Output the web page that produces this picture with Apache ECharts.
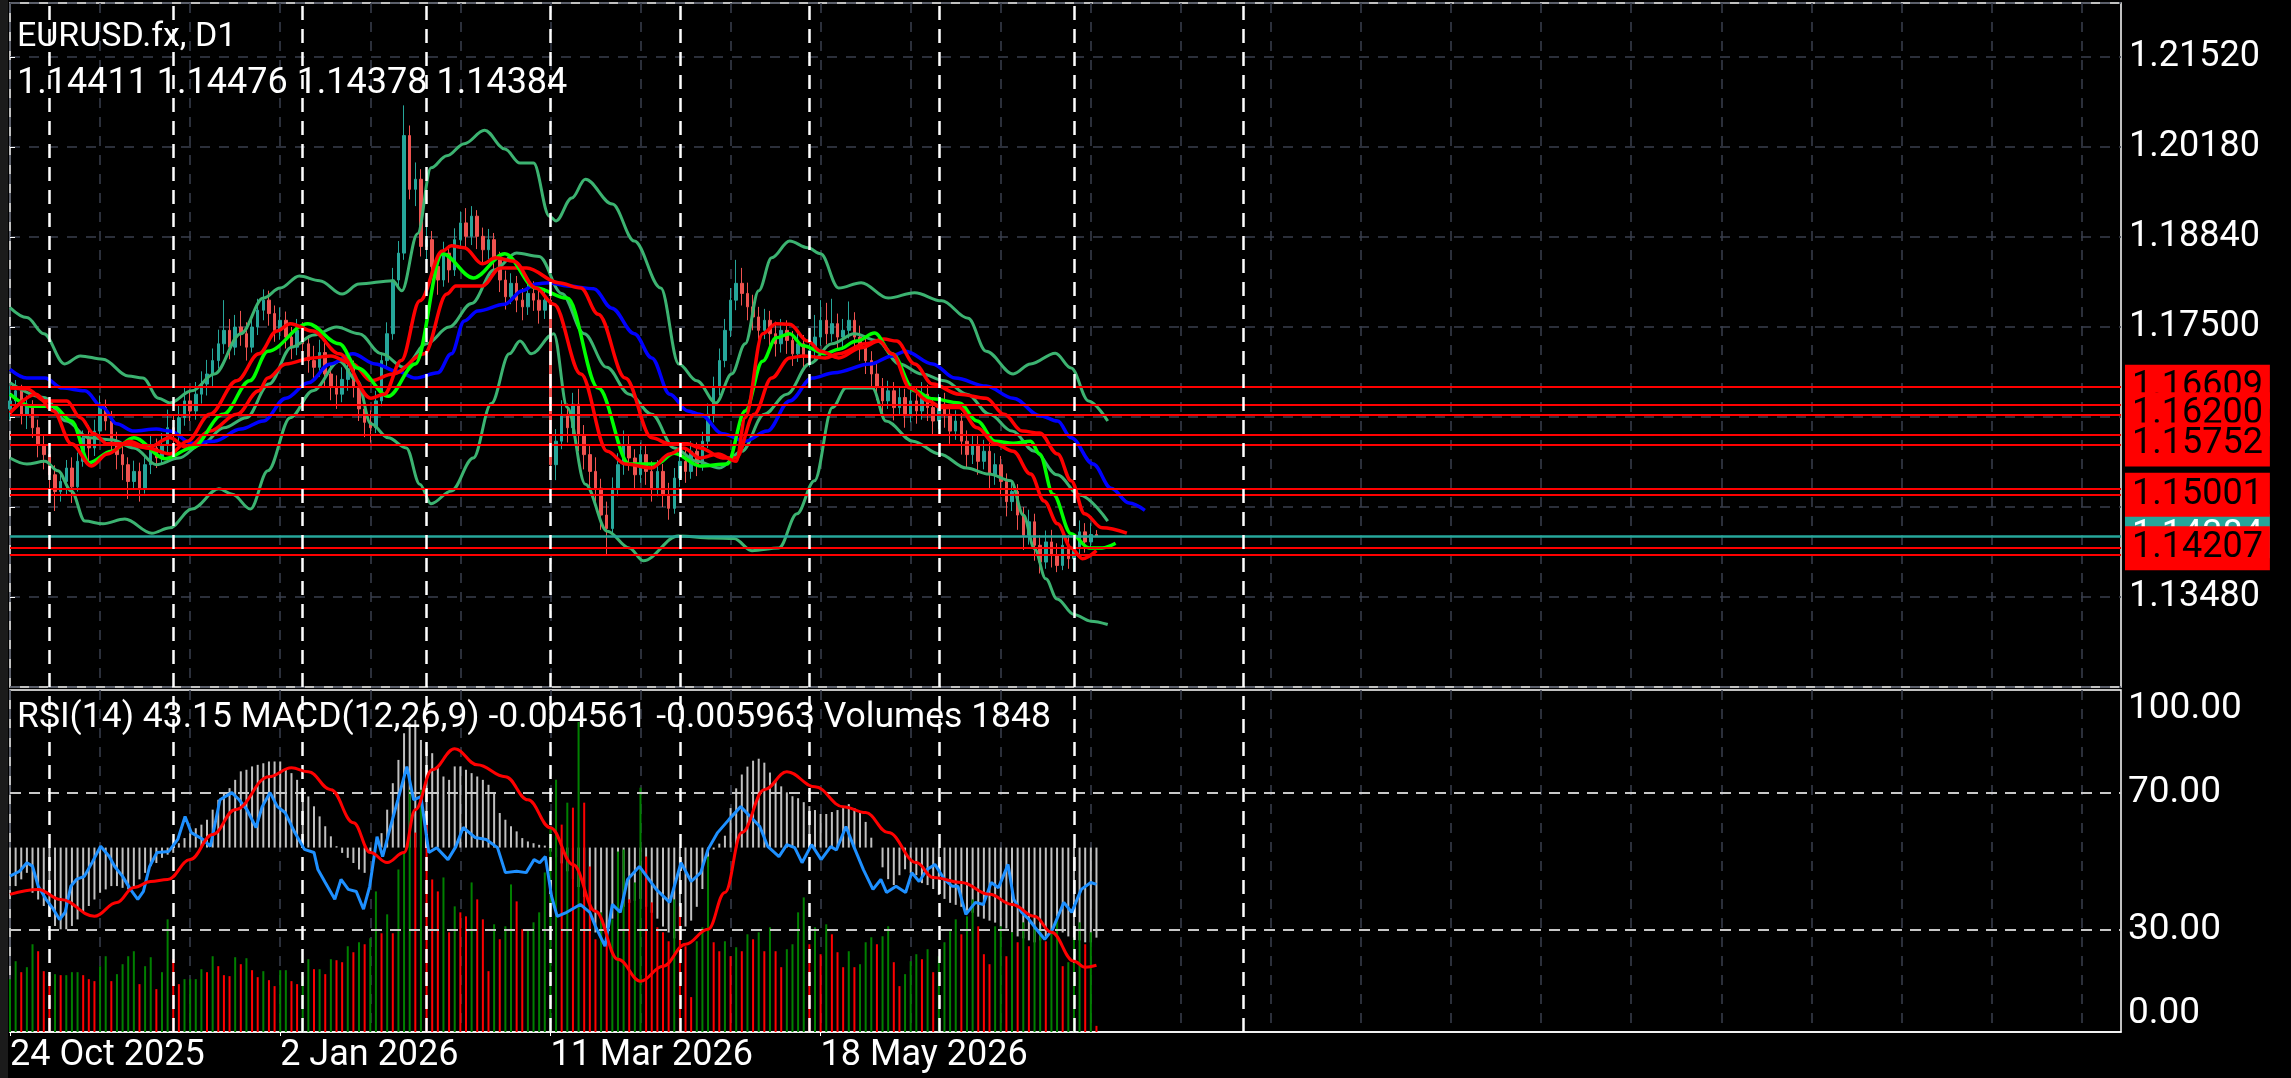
<!DOCTYPE html>
<html>
<head>
<meta charset="utf-8">
<script src="https://cdn.jsdelivr.net/npm/echarts@6/dist/echarts.min.js"></script>
<style>
  html, body { margin: 0; padding: 0; background: #000; }
  #chart { width: 2291px; height: 1078px; }
</style>
</head>
<body>
<div id="chart"></div>
<script>
// bar slots across the whole chart, including the empty shift on the right
const SLOTS = 376;

// daily candles, [open, close, low, high]
const candles = [
  [1.1628,1.1640,1.1612,1.1662],[1.1640,1.1655,1.1630,1.1671],[1.1655,1.1620,1.1605,1.1664],[1.1620,1.1632,1.1598,1.1648],[1.1632,1.1600,1.1585,1.1641],
  [1.1600,1.1575,1.1556,1.1612],[1.1575,1.1560,1.1538,1.1590],[1.1560,1.1530,1.1498,1.1571],[1.1530,1.1505,1.1476,1.1544],[1.1505,1.1520,1.1490,1.1533],
  [1.1520,1.1540,1.1500,1.1552],[1.1540,1.1512,1.1488,1.1556],[1.1512,1.1550,1.1505,1.1563],[1.1550,1.1585,1.1542,1.1596],[1.1585,1.1570,1.1550,1.1604],
  [1.1570,1.1595,1.1558,1.1612],[1.1595,1.1630,1.1588,1.1648],[1.1630,1.1610,1.1596,1.1642],[1.1610,1.1580,1.1566,1.1625],[1.1580,1.1560,1.1538,1.1594],
  [1.1560,1.1545,1.1522,1.1577],[1.1545,1.1520,1.1494,1.1556],[1.1520,1.1535,1.1508,1.1551],[1.1535,1.1510,1.1490,1.1548],[1.1510,1.1545,1.1502,1.1560],
  [1.1545,1.1570,1.1531,1.1588],[1.1570,1.1555,1.1540,1.1584],[1.1555,1.1575,1.1546,1.1592],[1.1575,1.1600,1.1562,1.1627],[1.1600,1.1590,1.1571,1.1618],
  [1.1590,1.1615,1.1580,1.1633],[1.1615,1.1640,1.1603,1.1660],[1.1640,1.1625,1.1610,1.1657],[1.1625,1.1650,1.1612,1.1668],[1.1650,1.1665,1.1636,1.1684],
  [1.1665,1.1680,1.1648,1.1701],[1.1680,1.1700,1.1662,1.1718],[1.1700,1.1725,1.1688,1.1746],[1.1725,1.1745,1.1710,1.1790],[1.1745,1.1720,1.1702,1.1762],
  [1.1720,1.1750,1.1708,1.1768],[1.1750,1.1740,1.1722,1.1774],[1.1740,1.1720,1.1700,1.1757],[1.1720,1.1750,1.1712,1.1766],[1.1750,1.1775,1.1738,1.1792],
  [1.1775,1.1790,1.1760,1.1806],[1.1790,1.1770,1.1752,1.1804],[1.1770,1.1745,1.1728,1.1782],[1.1745,1.1760,1.1731,1.1779],[1.1760,1.1735,1.1718,1.1773],
  [1.1735,1.1720,1.1702,1.1750],[1.1720,1.1745,1.1708,1.1762],[1.1745,1.1725,1.1706,1.1757],[1.1725,1.1700,1.1682,1.1738],[1.1700,1.1690,1.1668,1.1722],
  [1.1690,1.1712,1.1676,1.1731],[1.1712,1.1680,1.1662,1.1726],[1.1680,1.1660,1.1641,1.1695],[1.1660,1.1650,1.1628,1.1678],[1.1650,1.1672,1.1638,1.1690],
  [1.1672,1.1688,1.1655,1.1705],[1.1688,1.1660,1.1645,1.1700],[1.1660,1.1628,1.1610,1.1671],[1.1628,1.1608,1.1586,1.1640],[1.1608,1.1600,1.1578,1.1626],
  [1.1600,1.1640,1.1592,1.1655],[1.1640,1.1700,1.1632,1.1712],[1.1700,1.1740,1.1690,1.1757],[1.1740,1.1820,1.1731,1.1838],[1.1820,1.1860,1.1808,1.1878],
  [1.1860,1.2035,1.1850,1.2080],[1.2035,1.1955,1.1940,1.2050],[1.1955,1.1970,1.1930,1.1995],[1.1970,1.1870,1.1855,1.1985],[1.1870,1.1880,1.1845,1.1902],
  [1.1880,1.1840,1.1822,1.1893],[1.1840,1.1820,1.1798,1.1858],[1.1820,1.1860,1.1810,1.1877],[1.1860,1.1835,1.1816,1.1872],[1.1835,1.1880,1.1826,1.1897],
  [1.1880,1.1905,1.1866,1.1922],[1.1905,1.1885,1.1868,1.1927],[1.1885,1.1915,1.1872,1.1930],[1.1915,1.1885,1.1866,1.1924],[1.1885,1.1865,1.1846,1.1898],
  [1.1865,1.1880,1.1851,1.1896],[1.1880,1.1850,1.1830,1.1890],[1.1850,1.1820,1.1802,1.1862],[1.1820,1.1795,1.1776,1.1834],[1.1795,1.1815,1.1784,1.1830],
  [1.1815,1.1790,1.1772,1.1826],[1.1790,1.1780,1.1760,1.1808],[1.1780,1.1800,1.1768,1.1816],[1.1800,1.1790,1.1774,1.1818],[1.1790,1.1775,1.1755,1.1804],
  [1.1775,1.1790,1.1762,1.1808],[1.1790,1.1545,1.1528,1.1805],[1.1545,1.1580,1.1522,1.1598],[1.1580,1.1620,1.1568,1.1641],[1.1620,1.1600,1.1578,1.1636],
  [1.1600,1.1635,1.1588,1.1652],[1.1635,1.1590,1.1565,1.1658],[1.1590,1.1560,1.1538,1.1604],[1.1560,1.1535,1.1512,1.1575],[1.1535,1.1510,1.1488,1.1556],
  [1.1510,1.1470,1.1448,1.1524],[1.1470,1.1450,1.1409,1.1490],[1.1450,1.1510,1.1440,1.1526],[1.1510,1.1545,1.1498,1.1562],[1.1545,1.1575,1.1530,1.1596],
  [1.1575,1.1555,1.1536,1.1590],[1.1555,1.1530,1.1510,1.1568],[1.1530,1.1560,1.1518,1.1578],[1.1560,1.1535,1.1515,1.1574],[1.1535,1.1510,1.1490,1.1550],
  [1.1510,1.1535,1.1498,1.1552],[1.1535,1.1500,1.1482,1.1546],[1.1500,1.1480,1.1463,1.1518],[1.1480,1.1525,1.1472,1.1540],[1.1525,1.1550,1.1512,1.1566],
  [1.1550,1.1535,1.1518,1.1568],[1.1535,1.1565,1.1524,1.1580],[1.1565,1.1545,1.1528,1.1578],[1.1545,1.1580,1.1536,1.1594],[1.1580,1.1620,1.1570,1.1636],
  [1.1620,1.1660,1.1608,1.1676],[1.1660,1.1700,1.1648,1.1718],[1.1700,1.1745,1.1690,1.1762],[1.1745,1.1790,1.1735,1.1808],[1.1790,1.1815,1.1775,1.1850],
  [1.1815,1.1800,1.1782,1.1838],[1.1800,1.1780,1.1760,1.1816],[1.1780,1.1765,1.1745,1.1798],[1.1765,1.1745,1.1726,1.1780],[1.1745,1.1760,1.1732,1.1777],
  [1.1760,1.1740,1.1720,1.1774],[1.1740,1.1725,1.1706,1.1758],[1.1725,1.1745,1.1712,1.1762],[1.1745,1.1730,1.1710,1.1760],[1.1730,1.1710,1.1692,1.1744],
  [1.1710,1.1725,1.1698,1.1741],[1.1725,1.1705,1.1688,1.1738],[1.1705,1.1715,1.1690,1.1732],[1.1715,1.1735,1.1702,1.1768],[1.1735,1.1760,1.1722,1.1790],
  [1.1760,1.1740,1.1724,1.1786],[1.1740,1.1755,1.1728,1.1792],[1.1755,1.1735,1.1718,1.1770],[1.1735,1.1745,1.1716,1.1762],[1.1745,1.1760,1.1733,1.1788],
  [1.1760,1.1735,1.1718,1.1772],[1.1735,1.1720,1.1700,1.1752],[1.1720,1.1700,1.1680,1.1734],[1.1700,1.1680,1.1660,1.1714],[1.1680,1.1660,1.1641,1.1695],
  [1.1660,1.1640,1.1620,1.1674],[1.1640,1.1655,1.1628,1.1670],[1.1655,1.1630,1.1611,1.1668],[1.1630,1.1645,1.1618,1.1661],[1.1645,1.1620,1.1600,1.1658],
  [1.1620,1.1640,1.1608,1.1656],[1.1640,1.1625,1.1606,1.1660],[1.1625,1.1650,1.1612,1.1668],[1.1650,1.1630,1.1610,1.1664],[1.1630,1.1610,1.1590,1.1645],
  [1.1610,1.1635,1.1598,1.1650],[1.1635,1.1620,1.1600,1.1652],[1.1620,1.1595,1.1576,1.1632],[1.1595,1.1610,1.1582,1.1626],[1.1610,1.1580,1.1560,1.1622],
  [1.1580,1.1560,1.1540,1.1596],[1.1560,1.1575,1.1546,1.1590],[1.1575,1.1550,1.1530,1.1588],[1.1550,1.1565,1.1538,1.1582],[1.1565,1.1530,1.1510,1.1578],
  [1.1530,1.1545,1.1515,1.1562],[1.1545,1.1520,1.1498,1.1558],[1.1520,1.1490,1.1468,1.1532],[1.1490,1.1505,1.1476,1.1522],[1.1505,1.1470,1.1448,1.1516],
  [1.1470,1.1440,1.1418,1.1482],[1.1440,1.1460,1.1426,1.1478],[1.1460,1.1425,1.1402,1.1472],[1.1425,1.1400,1.1383,1.1440],[1.1400,1.1430,1.1390,1.1447],
  [1.1430,1.1410,1.1392,1.1448],[1.1410,1.1395,1.1385,1.1428],[1.1395,1.1425,1.1388,1.1442],[1.1425,1.1405,1.1390,1.1440],[1.1405,1.1420,1.1386,1.1436],
  [1.1420,1.1445,1.1410,1.1462],[1.1445,1.1430,1.1414,1.1458],[1.1430,1.14411,1.1420,1.1458],[1.14411,1.14384,1.14378,1.14476]
];

// indicator lines, [bar, price]
const bbUpper = [[0,1.1779],[3,1.1764],[6,1.1740],[9.7,1.1695],[12.5,1.1707],[16.5,1.1702],[21,1.1677],[23.6,1.1674],[26.4,1.1644],[28.4,1.1637],[32.3,1.1655],[36.3,1.1680],[41,1.1740],[45,1.1793],[48,1.1808],[51.4,1.1826],[55,1.1819],[59,1.1799],[62,1.1814],[68,1.1819],[69.6,1.1804],[72.4,1.1889],[74.8,1.1987],[77.6,1.2005],[80.7,1.2023],[84.3,1.2043],[87.9,1.2015],[90.6,1.1994],[93,1.1994],[95.8,1.1915],[97,1.1908],[99.8,1.1942],[102.2,1.1970],[107,1.1933],[110.9,1.1878],[115.6,1.1808],[118.8,1.1695],[122,1.1670],[125.4,1.1637],[128.2,1.1680],[130.6,1.1725],[133,1.1804],[135.3,1.1853],[138.5,1.1878],[141.7,1.1868],[144,1.1859],[147.2,1.1808],[151.2,1.1816],[156,1.1793],[160.7,1.1801],[165.5,1.1789],[170.2,1.1763],[173.4,1.1714],[178.2,1.1680],[181.3,1.1695],[185.7,1.1711],[188.5,1.1689],[191.6,1.1640],[195,1.1610]];
const bbMiddle = [[0,1.1667],[6,1.1645],[10,1.1610],[14,1.1585],[18,1.1582],[22,1.1570],[26,1.1545],[30,1.1555],[34,1.1575],[38,1.1600],[42,1.1615],[46,1.1665],[50,1.1720],[54,1.1738],[58,1.1750],[62,1.1740],[66,1.1710],[70,1.1690],[74,1.1725],[78,1.1750],[82,1.1785],[86,1.1835],[90,1.1860],[94,1.1855],[98,1.1800],[102,1.1740],[106,1.1690],[110,1.1650],[114,1.1620],[118,1.1570],[122,1.1550],[126,1.1540],[130,1.1565],[134,1.1620],[138,1.1650],[142,1.1695],[146,1.1725],[150,1.1740],[154,1.1730],[158,1.1695],[162,1.1680],[166,1.1670],[170,1.1650],[174,1.1620],[178,1.1595],[182,1.1565],[186,1.1530],[190,1.1500],[195,1.1461]];
const bbLower = [[0,1.1555],[3,1.1546],[6.2,1.1550],[8.5,1.1536],[10.9,1.1506],[13.3,1.1461],[16.5,1.1457],[20.4,1.1464],[25.2,1.1443],[28.4,1.1451],[32.3,1.1479],[37.1,1.1509],[39.5,1.1501],[42.7,1.1479],[45.8,1.1536],[49.8,1.1615],[53.8,1.1655],[58.5,1.1699],[61.7,1.1670],[64.1,1.1606],[67.2,1.1585],[70.4,1.1570],[72.8,1.1516],[74.8,1.1487],[78.4,1.1506],[82.3,1.1555],[85.5,1.1636],[88.7,1.1710],[90.6,1.1729],[92.6,1.1710],[96.6,1.1740],[99,1.1630],[102.2,1.1516],[106.1,1.1446],[110,1.1421],[112.5,1.1402],[118.7,1.1439],[124.7,1.1436],[128.6,1.1435],[131.8,1.1417],[136.6,1.1421],[139.8,1.1472],[142.9,1.1521],[146.1,1.1630],[148.5,1.1659],[153.2,1.1659],[155.6,1.1610],[160.4,1.1580],[165.1,1.1561],[169.9,1.1540],[173.9,1.1531],[177.8,1.1521],[180,1.1470],[182,1.1420],[184,1.1375],[186,1.1345],[189,1.1322],[192,1.1312],[195,1.1307]];
const jaw = [[0,1.1687],[3,1.1674],[6.2,1.1674],[9.3,1.1659],[13.3,1.1655],[16.5,1.1630],[18.9,1.1606],[22,1.1595],[26,1.1598],[28.4,1.1595],[32.3,1.1577],[36.3,1.1580],[41,1.1598],[45,1.1610],[49,1.1644],[53,1.1667],[56.9,1.1695],[60.9,1.1710],[64.9,1.1695],[68.8,1.1684],[72,1.1674],[76,1.1682],[78.4,1.1710],[80.7,1.1759],[83.1,1.1774],[87.9,1.1784],[91,1.1804],[93.4,1.1814],[95.8,1.1816],[99,1.1811],[103.7,1.1807],[106.9,1.1778],[110.9,1.1740],[114,1.1704],[117.2,1.1650],[120.4,1.1625],[122.6,1.1620],[126.6,1.1591],[130.6,1.1580],[134.5,1.1595],[138.5,1.1640],[142.5,1.1674],[146.4,1.1682],[152.8,1.1695],[156.7,1.1707],[159.1,1.1714],[163.9,1.1695],[167.9,1.1674],[173.4,1.1662],[178.2,1.1644],[183,1.1618],[186.1,1.1610],[188.5,1.1585],[192.4,1.1546],[195.6,1.1510],[198.8,1.1488],[201.6,1.1477]];
const teeth = [[0,1.1659],[3,1.1658],[6.2,1.1640],[10.1,1.1640],[12.5,1.1615],[14.9,1.1591],[17.3,1.1576],[20.4,1.1576],[24.4,1.1570],[28.4,1.1585],[31.5,1.1570],[35.5,1.1595],[40.3,1.1620],[44.2,1.1655],[45.8,1.1674],[49,1.1695],[53.8,1.1704],[57,1.1707],[60.9,1.1695],[64.1,1.1670],[68,1.1680],[73.6,1.1710],[77.6,1.1799],[79.2,1.1811],[83.9,1.1811],[87.1,1.1838],[91.8,1.1838],[97.4,1.1816],[101.4,1.1808],[104.5,1.1769],[109.3,1.1674],[114,1.1585],[117.2,1.1576],[120.4,1.1576],[122.6,1.1570],[126.6,1.1555],[129,1.1555],[132.2,1.1620],[135.3,1.1674],[138.5,1.1704],[140.9,1.1707],[144.8,1.1704],[147.2,1.1710],[152,1.1725],[155.2,1.1732],[157.5,1.1729],[160.7,1.1695],[163.9,1.1665],[168.6,1.1650],[173.4,1.1644],[176.6,1.1620],[179.8,1.1595],[182.9,1.1592],[186.1,1.1561],[188.5,1.1521],[190.9,1.1472],[194,1.1451],[198.4,1.1443]];
const lips = [[0,1.1650],[3.8,1.1632],[7.7,1.1632],[10.9,1.1610],[14.1,1.1548],[18,1.1565],[22,1.1585],[27.6,1.1554],[32.3,1.1570],[37.9,1.1620],[42.6,1.1670],[45.8,1.1714],[52.9,1.1755],[58.5,1.1725],[61.7,1.1689],[67.2,1.1647],[72,1.1695],[76.8,1.1859],[82.3,1.1823],[87.9,1.1859],[93.4,1.1808],[99,1.1793],[104.5,1.1659],[110,1.1546],[114.8,1.1546],[118,1.1562],[122.6,1.1543],[127.4,1.1546],[130.6,1.1625],[133.7,1.1699],[136.1,1.1734],[138.5,1.1740],[140.9,1.1722],[144.8,1.1710],[147.2,1.1717],[150.4,1.1729],[153.6,1.1741],[156.7,1.1710],[160.7,1.1655],[163.9,1.1643],[168.6,1.1637],[171.8,1.1610],[175,1.1580],[178.2,1.1577],[181.3,1.1580],[182.9,1.1561],[185.3,1.1501],[188.5,1.1442],[191.7,1.1421],[194,1.1421],[196.4,1.1428]];
const fastMa = [[0,1.1622],[4.6,1.1650],[7.7,1.1625],[10.9,1.1576],[14.5,1.1543],[17.3,1.1561],[21.2,1.1580],[24.4,1.1570],[28.4,1.1561],[31.5,1.1580],[35.5,1.1620],[40.3,1.1670],[44.2,1.1710],[47.4,1.1744],[49.8,1.1755],[53.8,1.1744],[58.5,1.1710],[64.1,1.1644],[66.5,1.1650],[69.5,1.1700],[72.8,1.1789],[76.8,1.1863],[78.4,1.1871],[80.7,1.1868],[83.9,1.1844],[86.3,1.1853],[89.5,1.1848],[93.4,1.1808],[96.6,1.1784],[101.4,1.1680],[106.1,1.1565],[109.3,1.1546],[114,1.1540],[117.2,1.1561],[119.6,1.1570],[122.6,1.1555],[125.8,1.1561],[129,1.1550],[130.6,1.1615],[133.7,1.1740],[136.1,1.1755],[138.5,1.1754],[141.7,1.1729],[144,1.1714],[147.2,1.1704],[151.2,1.1719],[154.4,1.1729],[156.7,1.1710],[159.9,1.1659],[163.1,1.1640],[165.5,1.1630],[168.6,1.1630],[171.8,1.1600],[175,1.1576],[178.2,1.1565],[181.3,1.1531],[183.7,1.1491],[186.1,1.1457],[188.5,1.1421],[190.5,1.1405],[193,1.1417]];

// horizontal levels
const levelPrices = [1.16609, 1.16340, 1.16200, 1.15890, 1.15752, 1.15090, 1.15001, 1.14207, 1.14105];
const levelTagged = [1.16609, 1.16200, 1.15752, 1.15001, 1.14207];
const bidPrice = 1.14384;

// vertical separators (bar positions) and date ticks
const separators = [7, 29, 52, 74, 96, 119, 142, 165, 189, 219];
const dateTickBars = [0, 48, 96, 144];
const dateTickText = ['24 Oct 2025', '2 Jan 2026', '11 Mar 2026', '18 May 2026'];

// lower window
const rsiLevels = [30, 70];
const rsiTickValues = [0, 30, 70, 100];
const rsi = [[0,45.6],[1.7,47],[3,49.5],[4,48.5],[5,42.7],[6.4,38.8],[7.7,35.9],[8.8,32.9],[9.8,35],[10.8,42.6],[11.8,44.6],[13.2,45.5],[14.6,49.6],[16.1,54.3],[17.6,51.4],[18.6,48.4],[20,45.5],[21.4,41.7],[22.7,38.8],[23.7,41.1],[24.8,48.4],[26.1,52.5],[28.2,52.8],[29.8,56.3],[31.1,63],[32.2,58.3],[34.3,56.3],[35.6,54.3],[37.3,67.9],[39.4,70],[40.7,67.9],[42.1,65],[43.7,59.8],[44.8,65.9],[46.2,70],[47.5,65.9],[48.9,64.1],[50.6,58.3],[52.3,53.4],[54,52.5],[54.7,47.5],[56,43.7],[57.7,38.8],[58.8,44.6],[60.1,41.7],[61.5,41.1],[62.8,35.9],[63.9,42.6],[65.2,57.1],[66.2,51.3],[67.6,60.1],[68.9,67.9],[70.5,77.6],[71.7,67.9],[73,68.8],[74.4,52.5],[75.8,53.9],[77.8,50.4],[79.2,54.2],[80.5,59.8],[82.6,56.9],[84.6,56.3],[86.6,53.9],[88,46.6],[90,47],[91.7,46.6],[93.1,50.4],[94.1,49.5],[95.1,51.3],[96.2,39.7],[97.2,33.8],[98.9,35],[101.3,37.3],[103,35],[104,30.9],[105.7,25.1],[107,37.3],[108.4,35],[109.7,44.6],[111.8,48.4],[113.1,45.5],[114.8,41.7],[117.2,37.9],[119.2,49.5],[121,44],[122.7,46.6],[124,53.4],[125.7,58.3],[127.7,62.1],[129.8,65.9],[131.5,63],[133.2,60.1],[134.6,54.3],[136.6,51.3],[138,54.8],[139.4,53.9],[140.7,49.5],[142.4,54.8],[144.1,50.4],[145.8,54.2],[146.8,53.2],[148.5,60.1],[149.9,54.2],[151.6,47.5],[153.3,41.7],[154.7,44.6],[155.7,40.8],[157.4,42.6],[159.1,40.8],[160.2,46.6],[161.5,44],[162.9,47.5],[164.3,49],[166,44.6],[167.4,42.6],[168.4,42.6],[169.8,34.4],[171.5,37.9],[172.9,37.3],[174.3,43.7],[175.6,42.2],[177.3,49],[178.3,38.8],[179.7,35],[181,32.9],[182.8,29.1],[183.8,27.1],[185.2,30],[187.2,37.9],[188.6,35],[190.3,41.7],[192,43.7],[193,43.15]];
const macdHist = [
  -0.00195,-0.00195,-0.00161,-0.00128,-0.00229,-0.00263,-0.00296,-0.00347,-0.00397,-0.00414,
  -0.00414,-0.00397,-0.00364,-0.0033,-0.00296,-0.00263,-0.00229,-0.00212,-0.00195,-0.00195,
  -0.00204,-0.00212,-0.00195,-0.00161,-0.00128,-0.00094,-0.00078,-0.00052,-0.00036,-0.00027,
  0.00022,0.00048,0.00073,0.00098,0.00116,0.00141,0.00192,0.00242,0.00276,0.00301,
  0.00343,0.00386,0.00394,0.00411,0.00419,0.00427,0.00436,0.00436,0.00436,0.00402,
  0.00377,0.00343,0.00301,0.00259,0.00209,0.00158,0.00108,0.00057,0.00007,-0.00027,
  -0.00052,-0.00078,-0.00111,-0.00128,-0.00027,0.00022,0.00073,0.00192,0.00326,0.00444,
  0.00579,0.00629,0.00646,0.00545,0.00495,0.00478,0.00411,0.0036,0.00343,0.00411,
  0.00411,0.00394,0.00377,0.0036,0.00343,0.00318,0.00276,0.00175,0.00141,0.00108,
  0.00082,0.00048,0.00031,0.00022,0.00014,0.0001,
  -0.0002,-0.0005,-0.0008,-0.0012,-0.0016,-0.0020,-0.0025,-0.0030,-0.0043,-0.0046,
  -0.0041,-0.0036,-0.0033,-0.0030,-0.0028,-0.0027,-0.0026,-0.0030,-0.0033,-0.0036,
  -0.0040,-0.0043,-0.0046,-0.0043,-0.0040,-0.0037,-0.0030,-0.0021,-0.0010,-0.0001,
  0.0002,0.0006,0.0020,0.0030,0.0037,0.0041,0.0044,0.0045,0.0043,0.0038,
  0.0034,0.0031,0.0028,0.0026,0.0025,0.0023,0.0021,0.0019,0.0017,0.0017,
  0.0018,0.0019,0.0020,0.0022,0.0020,0.0018,0.0013,0.0005,0.0000,-0.0010,
  -0.0016,-0.0019,-0.0014,-0.0011,-0.0013,-0.0014,-0.0018,-0.0019,-0.0021,-0.0024,
  -0.0026,-0.0028,-0.0029,-0.0030,-0.0032,-0.0033,-0.0035,-0.0036,-0.0037,-0.0038,
  -0.0040,-0.0041,-0.0043,-0.0045,-0.0046,-0.0047,-0.0048,-0.0047,-0.0045,-0.0043,
  -0.0042,-0.0043,-0.0045,-0.0046,-0.0047,-0.0048,-0.0048,-0.004561
];
const macdSignal = [[0,-0.00237],[5,-0.00212],[9,-0.00263],[15,-0.00348],[19,-0.00278],[22,-0.00202],[25,-0.00172],[28,-0.00162],[32,-0.00061],[36,0.00066],[40,0.00192],[46,0.00359],[50,0.00404],[53,0.00384],[57,0.00293],[61,0.00126],[64,-0.00025],[67,-0.00076],[70,-0.00025],[72,0.00192],[75,0.00394],[79,0.0050],[83,0.00419],[88,0.00359],[92,0.00242],[96,0.00101],[100,-0.00086],[104,-0.00323],[108,-0.00566],[112,-0.00677],[116,-0.00601],[120,-0.0049],[124,-0.00414],[127,-0.00227],[130,0.00076],[134,0.00293],[138,0.00384],[143,0.00308],[148,0.00207],[152,0.00177],[156,0.00076],[161,-0.00076],[164,-0.00152],[169,-0.00177],[174,-0.00237],[178,-0.00288],[182,-0.00348],[185,-0.00429],[189,-0.00576],[191,-0.00606],[193,-0.005963]];
const volumes = [
  15900,21300,18000,19500,26400,24300,18300,16800,17400,17100,
  17100,18000,18000,17100,15900,15300,19800,22800,15300,17400,
  20400,22800,24300,14400,19800,22500,12900,18000,33900,21900,
  14400,15900,15900,15900,18900,18000,22800,19800,17100,16800,
  22500,20400,22200,18600,16500,18300,15600,13800,18600,18600,
  15300,14400,16800,21900,18900,18900,17400,21900,21600,21000,
  25800,24000,27000,26400,28200,42300,29700,35400,29700,48900,
  54300,72900,60000,72900,63000,45900,42300,46500,30000,37800,
  36000,34800,45000,39900,33900,18300,32400,27900,31800,44400,
  39300,30900,30900,33000,36000,48000,
  61800,75900,62400,69000,67500,93300,69000,49800,27900,36000,
  27900,33900,54300,54900,39900,45000,73500,52800,39000,31500,
  30000,27300,39900,37800,25800,10500,27300,31500,52800,27000,
  24300,27300,22800,25500,24300,29400,27900,30000,24300,31500,
  24300,19500,24900,26400,36000,40500,26400,31500,23400,32400,
  29400,24000,19500,24300,19500,20400,27000,28500,26400,28800,
  31800,21000,13800,17400,21300,23400,21900,24900,18000,22800,
  27000,30300,33900,29400,34800,39900,31800,23400,20400,31800,
  31800,22800,30000,27000,33000,25800,30900,30900,27300,30000,
  34800,19800,21000,28500,33000,26400,30000,1848
];

const FONT = 'Roboto';
const GRID_GREY = '#3a3f4e';
const slots = Array.from({ length: SLOTS }, (_, i) => i);

const chart = echarts.init(document.getElementById('chart'), null, { renderer: 'canvas' });

function maLine(name, data, color, width) {
  return {
    name, type: 'line', xAxisIndex: 1, yAxisIndex: 0, data,
    symbol: 'none', smooth: 0.35, smoothMonotone: 'x',
    lineStyle: { color, width }, z: 4, silent: true
  };
}

const sepLines = (xAxisIndex, yAxisIndex) => ({
  type: 'line', xAxisIndex, yAxisIndex, data: [], z: 6, silent: true,
  markLine: {
    symbol: ['none', 'none'], silent: true, animation: false, precision: 5,
    label: { show: false },
    lineStyle: { color: '#ffffff', width: 2.5, type: [14, 9] },
    data: separators.map(b => ({ xAxis: b }))
  }
});

const tagLabel = (text, color, bg) => ({
  show: true, position: 'end', distance: 4, formatter: () => text,
  color, backgroundColor: bg, fontSize: 36, fontFamily: FONT, padding: [5, 7, 3, 7]
});

chart.setOption({
  backgroundColor: '#000000',
  animation: false,
  textStyle: { fontFamily: FONT },
  title: [
    { text: 'EURUSD.fx, D1', left: 17, top: 20, padding: 0,
      textStyle: { color: '#fff', fontSize: 34, fontWeight: 'normal', fontFamily: FONT } },
    { text: '1.14411 1.14476 1.14378 1.14384', left: 17, top: 66, padding: 0,
      textStyle: { color: '#fff', fontSize: 36, fontWeight: 'normal', fontFamily: FONT } },
    { text: 'RSI(14) 43.15 MACD(12,26,9) -0.004561 -0.005963 Volumes 1848', left: 17, top: 700, padding: 0,
      textStyle: { color: '#fff', fontSize: 35.5, fontWeight: 'normal', fontFamily: FONT } }
  ],
  graphic: [
    { type: 'rect', shape: { x: 0, y: 0, width: 8, height: 1078 }, style: { fill: '#1b1b1b' }, z: -1 }
  ],
  grid: [
    { left: 10, right: 170, top: 3, height: 684, show: true, borderColor: '#ffffff', borderWidth: 1.5, backgroundColor: 'transparent' },
    { left: 10, right: 170, top: 690, height: 342, show: true, borderColor: '#ffffff', borderWidth: 1.5, backgroundColor: 'transparent' }
  ],
  xAxis: [
    { type: 'category', gridIndex: 0, data: slots, boundaryGap: false,
      axisLine: { show: false }, axisTick: { show: false }, axisLabel: { show: false },
      splitLine: { show: true, interval: i => i % 16 === 0, lineStyle: { color: GRID_GREY, width: 1.5, type: [10, 9] } } },
    { type: 'value', gridIndex: 0, min: 0, max: SLOTS - 1, show: false },
    { type: 'category', gridIndex: 1, data: slots, boundaryGap: false,
      axisLine: { show: true, lineStyle: { color: '#ffffff', width: 1.5 } },
      axisTick: { show: true, interval: i => dateTickBars.includes(i), length: 4, lineStyle: { color: '#fff' } },
      axisLabel: {
        show: true, interval: i => dateTickBars.includes(i), color: '#fff', fontSize: 36, fontFamily: FONT,
        align: 'left', margin: 6,
        formatter: (v) => { const k = dateTickBars.indexOf(Number(v)); return k >= 0 ? dateTickText[k] : ''; }
      },
      splitLine: { show: true, interval: i => i % 16 === 0, lineStyle: { color: GRID_GREY, width: 1.5, type: [10, 9] } } },
    { type: 'value', gridIndex: 1, min: 0, max: SLOTS - 1, show: false }
  ],
  yAxis: [
    { type: 'value', gridIndex: 0, position: 'right', min: 1.1214, max: 1.22324, interval: 0.0134,
      axisLine: { show: false },
      axisTick: { show: true, length: 5, lineStyle: { color: '#fff' } },
      axisLabel: { color: '#fff', fontSize: 36, fontFamily: FONT, margin: 8, showMinLabel: false, showMaxLabel: false,
        formatter: v => v.toFixed(5) },
      splitLine: { show: true, lineStyle: { color: GRID_GREY, width: 1.5, type: [10, 9] } } },
    { type: 'value', gridIndex: 1, position: 'right', min: 0, max: 100, interval: 10,
      axisLine: { show: false },
      axisTick: { show: true, length: 5, customValues: rsiLevels, lineStyle: { color: '#fff' } },
      axisLabel: { color: '#fff', fontSize: 37, fontFamily: FONT, margin: 7, customValues: rsiTickValues,
        verticalAlignMinLabel: 'bottom', verticalAlignMaxLabel: 'top',
        formatter: v => rsiTickValues.includes(Math.round(v)) ? v.toFixed(2) : '' },
      splitLine: { show: false } },
    { type: 'value', gridIndex: 1, min: -0.00934, max: 0.00798, show: false },
    { type: 'value', gridIndex: 1, min: 0, max: 102900, show: false }
  ],
  series: [
    {
      name: 'EURUSD', type: 'candlestick', xAxisIndex: 0, yAxisIndex: 0, data: candles,
      barWidth: 3, z: 3, silent: true,
      itemStyle: { color: '#26a69a', color0: '#ef5350', borderColor: '#26a69a', borderColor0: '#ef5350', borderWidth: 1 }
    },
    maLine('BB upper', bbUpper, '#3cb371', 3),
    maLine('BB middle', bbMiddle, '#3cb371', 3),
    maLine('BB lower', bbLower, '#3cb371', 3),
    maLine('Jaw', jaw, '#0000ff', 3.5),
    maLine('Teeth', teeth, '#ff0000', 3.5),
    maLine('Lips', lips, '#00ff00', 3.5),
    maLine('Fast MA', fastMa, '#ff0000', 3.5),
    {
      name: 'Bid', type: 'line', xAxisIndex: 1, yAxisIndex: 0, data: [], z: 7, silent: true,
      markLine: {
        symbol: ['none', 'none'], silent: true, animation: false, precision: 5,
        lineStyle: { color: '#26a69a', width: 2.5, type: 'solid' },
        label: tagLabel(bidPrice.toFixed(5), '#ffffff', '#26a69a'),
        data: [{ yAxis: bidPrice }]
      }
    },
    {
      name: 'Levels', type: 'line', xAxisIndex: 1, yAxisIndex: 0, data: [], z: 8, silent: true,
      markLine: {
        symbol: ['none', 'none'], silent: true, animation: false, precision: 5,
        lineStyle: { color: '#ff0000', width: 2, type: 'solid' },
        label: { show: false },
        data: levelPrices.map(p => ({
          yAxis: p,
          label: levelTagged.includes(p) ? tagLabel(p.toFixed(5), '#000000', '#ff0000') : { show: false }
        }))
      }
    },
    sepLines(1, 0),
    {
      name: 'MACD', type: 'bar', xAxisIndex: 2, yAxisIndex: 2, data: macdHist,
      barWidth: 2, z: 2, silent: true, itemStyle: { color: '#c0c0c0' }
    },
    {
      name: 'Volumes', type: 'bar', xAxisIndex: 2, yAxisIndex: 3, barWidth: 2, barGap: '-100%', z: 3, silent: true,
      data: volumes.map((v, i) => ({ value: v, itemStyle: { color: i > 0 && v < volumes[i - 1] ? '#ff0000' : '#008000' } }))
    },
    {
      name: 'RSI', type: 'line', xAxisIndex: 3, yAxisIndex: 1, data: rsi, symbol: 'none', z: 5, silent: true,
      lineStyle: { color: '#1e90ff', width: 3 },
      markLine: {
        symbol: ['none', 'none'], silent: true, animation: false, precision: 2, label: { show: false },
        lineStyle: { color: '#c8c8c8', width: 2, type: [11, 8] },
        data: rsiLevels.map(v => ({ yAxis: v }))
      }
    },
    {
      name: 'Signal', type: 'line', xAxisIndex: 3, yAxisIndex: 2, data: macdSignal, symbol: 'none', z: 5, silent: true,
      smooth: 0.4, smoothMonotone: 'x', lineStyle: { color: '#ff0000', width: 3 }
    },
    sepLines(3, 1)
  ]
});
</script>
</body>
</html>
